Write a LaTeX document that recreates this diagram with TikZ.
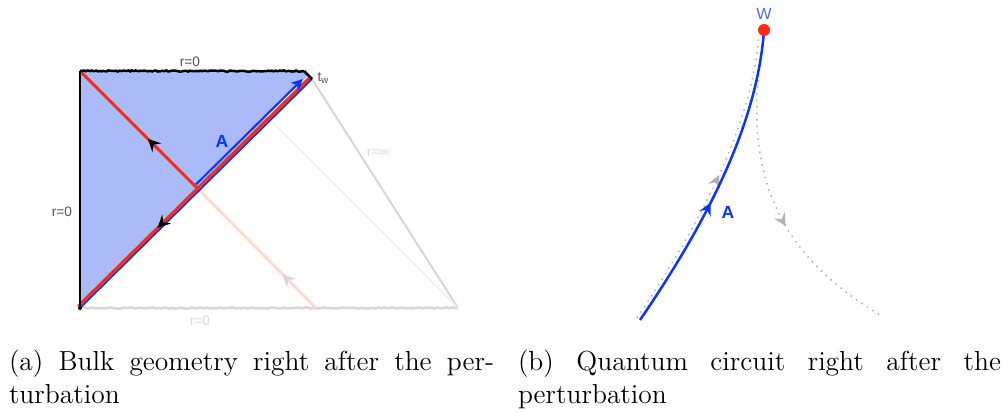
\documentclass[tikz,border=0pt]{standalone}
\usepackage{fontspec}
\newfontfamily\labelfont{Liberation Sans}
\usetikzlibrary{arrows.meta,calc,decorations.pathmorphing,decorations.markings}
\definecolor{fillblue}{HTML}{ABBBFA}
\definecolor{lineblue}{HTML}{0A34FF}
\definecolor{linered}{HTML}{FF2A10}
\definecolor{faintred}{HTML}{FFD8D0}
\definecolor{faintgreen}{HTML}{DDF8DD}
\definecolor{edgegray}{HTML}{D6D6D6}
\definecolor{textgray}{HTML}{555555}
\definecolor{fainttext}{HTML}{DADADA}
\definecolor{wblue}{HTML}{4A6FE6}
\begin{document}
\begin{tikzpicture}[x=0.4pt,y=-0.4pt,line width=0.8pt,>={Stealth[length=4.5pt,width=4.5pt,inset=1.2pt]},
  lbl/.style={inner sep=1pt,font=\labelfont\fontsize{5.5}{6}\selectfont},
  bigA/.style={inner sep=1pt,text=lineblue,font=\labelfont\fontsize{7}{8}\selectfont\bfseries},
  caption/.style={anchor=base west,inner sep=0pt,font=\fontsize{11}{13}\selectfont},
  rough/.style={decorate,decoration={random steps,segment length=0.8pt,amplitude=0.25pt}},
  midarrow/.style 2 args={postaction={decorate},decoration={markings,
    mark=at position #1 with {\arrow[#2]{Stealth[length=5pt,width=5pt,inset=1.8pt]}}}},
  circuit/.style={dotted,line width=0.6pt,color=gray!60}]
\useasboundingbox (0,0) rectangle (1008,413);
% 左图：几何
\coordinate (TL) at (80,71);
\coordinate (TC) at (304,71);
\coordinate (TW) at (312,79);
\coordinate (BL) at (80,308);
\coordinate (BR) at (458,308);
\coordinate (J) at (197,188);
\coordinate (P) at (316,308);
\coordinate (G) at ($(BL)!0.82!(TW)+(-3.2,-3.2)$);
% 填充区域
\fill[fillblue] (TL) -- (TC) -- (TW) -- (BL) -- cycle;
% 边界 r=∞ 与 r=0（下）
\draw[edgegray] (TW) -- (BR);
\draw[edgegray,line width=1pt,rough] (BL) -- (BR);
% 淡色光线
\draw[faintgreen,line width=0.5pt] ($(TW)+(-3.2,-3.2)$) -- (G) -- (BR);
\draw[faintred,line width=1.1pt,midarrow={0.28}{edgegray}] (P) -- (J);
% 斜边
\draw[lineblue,line width=0.7pt] (BL) -- (TW);
\draw[linered,line width=1.2pt,midarrow={0.66}{black}]
  ($(TW)+(-1.8,-1.8)$) -- ($(BL)+(-1.8,-1.8)$);
\draw[linered,line width=1.2pt,midarrow={0.42}{black}] (J) -- (TL);
% 算符 A
\draw[lineblue,->] ($(BL)!0.52!(TW)+(-4.6,-4.6)$) -- ($(BL)!0.98!(TW)+(-4.6,-4.6)$);
% 边界 r=0（左、上）
\draw[black,line width=0.9pt] (TL) -- (BL);
\fill[black] (BL) circle (2);
\draw[black,line width=1pt,rough] (TL) -- (TC);
\draw[black,line width=1pt] (TC) -- (TW);
% 标签
\node[lbl,text=textgray] (rtop) at (190,62) {r=0};
\node[lbl,text=textgray,anchor=west] (tw) at (314,78) {t\textsubscript{w}};
\node[lbl,text=fainttext] (rinf) at (378,153) {r=∞};
\node[lbl,text=textgray] (rleft) at (62,212) {r=0};
\node[lbl,text=fainttext] (rbot) at (200,321) {r=0};
\node[bigA] (Aleft) at (222,141) {A};
% 右图：线路
\coordinate (W) at (764,30);
\coordinate (S) at (640,320);
\draw[circuit,midarrow={0.53}{gray!60}] ($(S)+(-3,-2)$) .. controls (696,230) and (752,128) .. ($(W)+(-5,5)$);
\draw[circuit,midarrow={0.6}{gray!60}] ($(W)+(0,5)$) .. controls (740,170) and (775,252) .. (880,315);
\draw[lineblue,line width=1pt,midarrow={0.43}{lineblue}] (S) .. controls (700,232) and (757,130) .. (W);
\fill[linered] (W) circle (6);
\node[inner sep=1pt,text=wblue,font=\labelfont\fontsize{6.5}{7}\selectfont] (Wlabel) at (764,14) {W};
\node[bigA] (Aright) at (728,212) {A};
% 图注
\node[caption] (capa1) at (8,370) {\makebox[194pt][s]{(a) Bulk geometry right after the per-}};
\node[caption] (capa2) at (8,403) {turbation};
\node[caption] (capb1) at (517,370) {\makebox[193.2pt][s]{(b) Quantum circuit right after the}};
\node[caption] (capb2) at (517,403) {perturbation};
\end{tikzpicture}
\end{document}
